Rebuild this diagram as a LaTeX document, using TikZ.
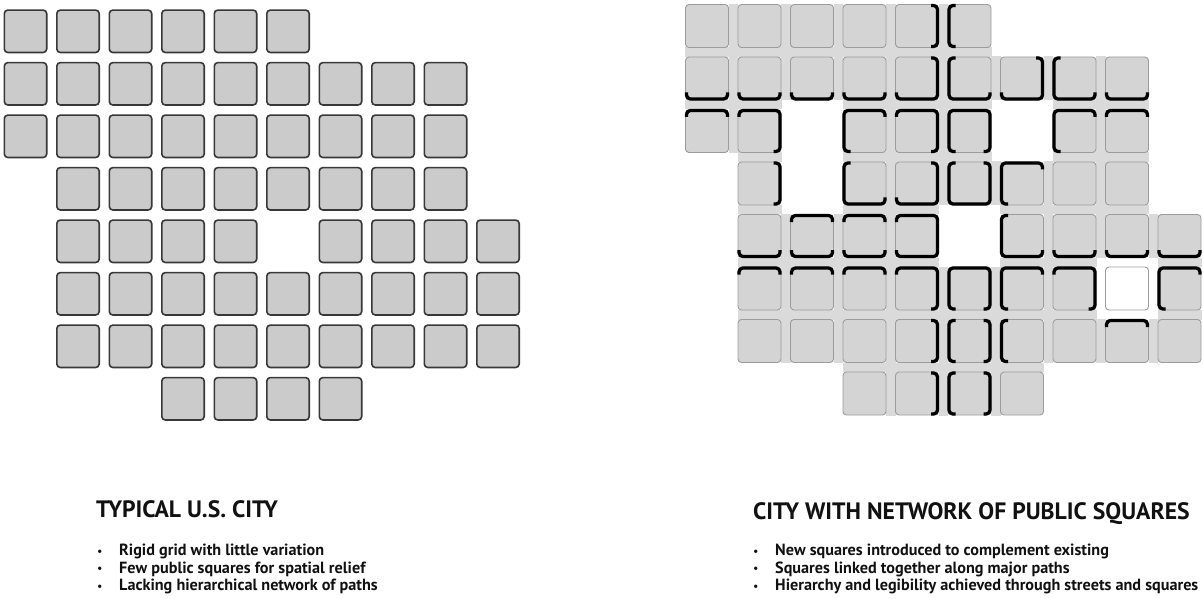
\documentclass[tikz,border=0pt]{standalone}
\usepackage{fontspec}
\setmainfont{PT Sans}
\definecolor{lsqfill}{HTML}{CBCBCB}
\definecolor{lsqdraw}{HTML}{383838}
\definecolor{rsqfill}{HTML}{D4D4D4}
\definecolor{rsqdraw}{HTML}{9C9C9C}
\definecolor{gapfill}{HTML}{DADADA}
\definecolor{textc}{HTML}{111111}
\tikzset{
  lsq/.style={fill=lsqfill, draw=lsqdraw, line width=1.6pt, rounded corners=3.5pt},
  rsq/.style={fill=rsqfill, draw=rsqdraw, line width=0.9pt, rounded corners=3.5pt},
  gapf/.style={fill=gapfill},
  brk/.style={draw=black, line width=3.2pt, rounded corners=4pt, line cap=butt},
  pics/bT/.style={code={\draw[brk] (-20.5,-14) -- (-20.5,-20.5) -- (20.5,-20.5) -- (20.5,-14);}},
  pics/bTR/.style={code={\draw[brk] (-20.5,-14) -- (-20.5,-20.5) -- (20.5,-20.5) -- (20.5,20.5) -- (14,20.5);}},
  pics/bTRB/.style={code={\draw[brk] (-20.5,-14) -- (-20.5,-20.5) -- (20.5,-20.5) -- (20.5,20.5) -- (-20.5,20.5) -- (-20.5,14);}},
  ttl/.style={font=\bfseries\fontsize{23.7}{28}\selectfont, anchor=base west, inner sep=0pt, text=textc},
  bul/.style={font=\bfseries\fontsize{16.2}{19}\selectfont, anchor=base west, inner sep=0pt, text=textc},
  dot/.style={font=\fontsize{12}{14}\selectfont, anchor=base west, inner sep=0pt, text=textc},
}
% bracket: column, row, pic type, starting side (0 top,1 right,2 bottom,3 left)
\newcommand{\brkat}[4]{\pic[rotate=-90*#4] at ({685+52.5*#1+22},{4+52.5*#2+22}) {#3};}
\begin{document}
\begin{tikzpicture}[x=1pt,y=-1pt]
\useasboundingbox (0,0) rectangle (1203,599);
% ---------- left grid ----------
\foreach \ri/\cols in {0/{0,...,5},1/{0,...,8},2/{0,...,8},3/{1,...,8},4/{1,2,3,4,6,7,8,9},5/{1,...,9},6/{1,...,9},7/{3,4,5,6}} {
  \foreach \ci in \cols {
    \draw[lsq] ({3.5+52.5*\ci+0.8},{9.3+52.5*\ri+0.8}) rectangle ++(42.4,42.4);
  }
}
% ---------- right grid occupancy ----------
\foreach \ri/\cols in {0/{0,...,5},1/{0,...,8},2/{0,1,3,4,5,7,8},3/{1,3,4,5,6,7,8},4/{1,2,3,4,6,7,8,9},5/{1,2,3,4,5,6,7,9},6/{1,...,9},7/{3,4,5,6}} {
  \foreach \ci in \cols {
    \expandafter\gdef\csname occ-\ci-\ri\endcsname{1}
  }
}
% street fill between neighbouring blocks
\foreach \ri in {0,...,7} {
  \foreach \ci in {0,...,9} {
    \pgfmathtruncatemacro\cn{\ci+1}
    \pgfmathtruncatemacro\rn{\ri+1}
    \ifcsname occ-\ci-\ri\endcsname
      \ifcsname occ-\cn-\ri\endcsname
        \fill[gapf] ({685+52.5*\ci+43.5},{4+52.5*\ri}) rectangle ({685+52.5*\cn+0.5},{4+52.5*\ri+44});
      \fi
      \ifcsname occ-\ci-\rn\endcsname
        \fill[gapf] ({685+52.5*\ci},{4+52.5*\ri+43.5}) rectangle ({685+52.5*\ci+44},{4+52.5*\rn+0.5});
      \fi
      \ifcsname occ-\cn-\ri\endcsname\ifcsname occ-\ci-\rn\endcsname\ifcsname occ-\cn-\rn\endcsname
        \fill[gapf] ({685+52.5*\ci+43.5},{4+52.5*\ri+43.5}) rectangle ({685+52.5*\cn+0.5},{4+52.5*\rn+0.5});
      \fi\fi\fi
    \fi
  }
}
% blocks
\foreach \ri in {0,...,7} {
  \foreach \ci in {0,...,9} {
    \ifcsname occ-\ci-\ri\endcsname
      \draw[rsq] ({685+52.5*\ci+0.5},{4+52.5*\ri+0.5}) rectangle ++(43,43);
    \fi
  }
}
% new public square with outline
\draw[rsq, fill=white] ({685+52.5*8+0.5},{4+52.5*5+0.5}) rectangle ++(43,43);
% ---------- brackets ----------
% row 0
\brkat{4}{0}{bT}{1} \brkat{5}{0}{bT}{3}
% row 1
\brkat{0}{1}{bT}{2} \brkat{1}{1}{bT}{2} \brkat{2}{1}{bT}{2} \brkat{3}{1}{bT}{2}
\brkat{4}{1}{bTR}{1} \brkat{5}{1}{bTR}{2} \brkat{6}{1}{bTR}{1} \brkat{7}{1}{bTR}{2}
\brkat{8}{1}{bT}{2}
% row 2
\brkat{0}{2}{bT}{0} \brkat{1}{2}{bTR}{0} \brkat{3}{2}{bTR}{3} \brkat{4}{2}{bTR}{0}
\brkat{5}{2}{bTRB}{3} \brkat{7}{2}{bTR}{3} \brkat{8}{2}{bT}{0}
% row 3
\brkat{1}{3}{bT}{1} \brkat{3}{3}{bTR}{2} \brkat{4}{3}{bTR}{1} \brkat{5}{3}{bTRB}{1}
\brkat{6}{3}{bTR}{3}
% row 4
\brkat{1}{4}{bT}{2} \brkat{2}{4}{bT}{0} \brkat{2}{4}{bT}{2} \brkat{3}{4}{bT}{0} \brkat{3}{4}{bT}{2}
\brkat{4}{4}{bTRB}{0} \brkat{6}{4}{bTR}{2} \brkat{7}{4}{bT}{2} \brkat{8}{4}{bT}{2} \brkat{9}{4}{bT}{2}
% row 5
\brkat{1}{5}{bT}{0} \brkat{2}{5}{bT}{0} \brkat{3}{5}{bT}{0} \brkat{4}{5}{bTR}{0}
\brkat{5}{5}{bTRB}{3} \brkat{6}{5}{bTR}{3} \brkat{7}{5}{bTR}{0} \brkat{9}{5}{bTR}{3}
% row 6
\brkat{4}{6}{bT}{1} \brkat{5}{6}{bT}{3} \brkat{5}{6}{bT}{1} \brkat{6}{6}{bT}{3} \brkat{8}{6}{bT}{0}
% row 7
\brkat{4}{7}{bT}{1} \brkat{5}{7}{bT}{3} \brkat{5}{7}{bT}{1}
% ---------- texts ----------
\node[ttl] (t1) at (96,517.5) {TYPICAL U.S. CITY};
\node[dot] (d11) at (97,555) {•};
\node[dot] (d12) at (97,572.5) {•};
\node[dot] (d13) at (97,590) {•};
\node[bul] (l11) at (119,555.5) {Rigid grid with little variation};
\node[bul] (l12) at (119,573) {Few public squares for spatial relief};
\node[bul] (l13) at (119,590.5) {Lacking hierarchical network of paths};
\node[ttl] (t2) at (753,519) {CITY WITH NETWORK OF PUBLIC SQUARES};
\node[dot] (d21) at (753,555) {•};
\node[dot] (d22) at (753,572.5) {•};
\node[dot] (d23) at (753,590) {•};
\node[bul] (l21) at (775,555.5) {New squares introduced to complement existing};
\node[bul] (l22) at (775,573) {Squares linked together along major paths};
\node[bul] (l23) at (775,590.5) {Hierarchy and legibility achieved through streets and squares};
\end{tikzpicture}
\end{document}
